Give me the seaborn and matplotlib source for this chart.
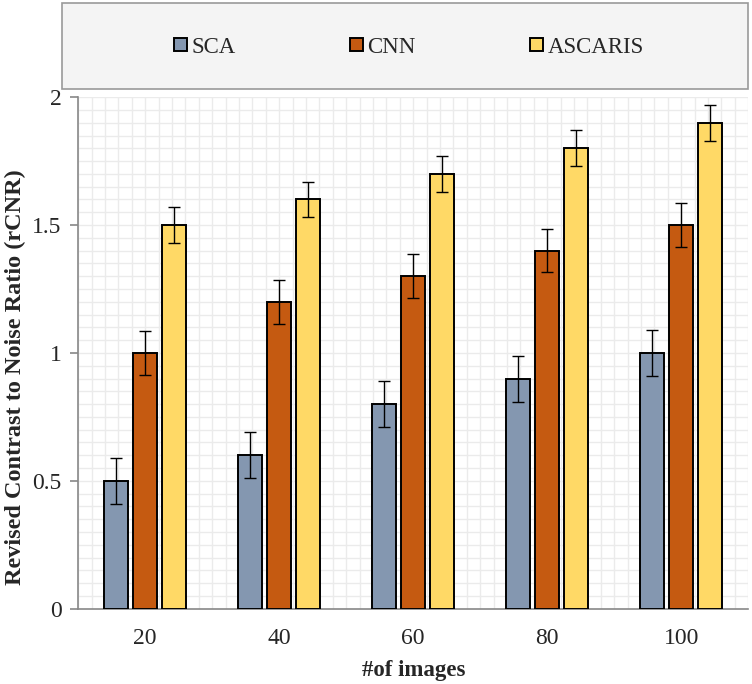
"""
plot.py

Grouped bar chart of rCNR vs number of images.
"""

import numpy as np
import pandas as pd
import matplotlib
matplotlib.use("Agg")
import matplotlib.pyplot as plt
from matplotlib.patches import Rectangle
import seaborn as sns

# data
images = ["20", "40", "60", "80", "100"]
methods = ["SCA", "CNN", "ASCARIS"]
sca = [0.5, 0.6, 0.8, 0.9, 1.0]
cnn = [1.0, 1.2, 1.3, 1.4, 1.5]
ascaris = [1.5, 1.6, 1.7, 1.8, 1.9]
sca_err = [0.09, 0.09, 0.09, 0.09, 0.09]
cnn_err = [0.085, 0.085, 0.085, 0.085, 0.085]
ascaris_err = [0.07, 0.07, 0.07, 0.07, 0.07]
colors = ["#8497B0", "#C55A11", "#FFD966"]

df = pd.DataFrame({
    "images": images * 3,
    "method": [m for m in methods for _ in images],
    "value": sca + cnn + ascaris,
    "err": sca_err + cnn_err + ascaris_err,
})

sns.set_theme(style="white")
plt.rcParams["font.family"] = ["Liberation Serif", "DejaVu Serif"]

fig = plt.figure(figsize=(7.52, 6.84), dpi=100)
ax = fig.add_axes([0.104, 0.110, 0.891, 0.748])

sns.barplot(
    data=df, x="images", y="value", hue="method",
    order=images, hue_order=methods, palette=colors, saturation=1,
    width=0.65, gap=0.17, errorbar=None,
    edgecolor="black", linewidth=1.4, ax=ax, zorder=3
)

# error bars on top of each bar
for container, method in zip(ax.containers, methods):
    errs = df[df["method"] == method]["err"].values
    xs = [p.get_x() + p.get_width() / 2 for p in container.patches]
    ys = [p.get_height() for p in container.patches]
    ax.errorbar(xs, ys, yerr=errs, fmt="none", ecolor="black",
                elinewidth=1.0, capsize=4, capthick=1.0, zorder=4)

ax.legend_.remove()

ax.set_xlim(-0.5, 4.5)
ax.set_ylim(0, 2)

# background grid
grid_color = "#ebebeb"
for x in np.arange(-0.5, 4.51, 0.1):
    ax.axvline(x, color=grid_color, lw=1.0, zorder=0)
for y in np.arange(0, 2.01, 0.05):
    ax.axhline(y, color=grid_color, lw=1.0, zorder=0)

ax.set_yticks([0, 0.5, 1, 1.5, 2])
ax.set_yticklabels(["0", "0.5", "1", "1.5", "2"])
ax.set_xticks(range(len(images)))
ax.set_xticklabels(images)
ax.set_xticks(np.arange(-0.5, 4.6, 1), minor=True)
ax.tick_params(axis="x", which="major", length=0, pad=14, labelsize=17)
ax.tick_params(axis="x", which="minor", length=6, color="#888888", width=1.2,
               direction="out")
ax.tick_params(axis="y", which="major", length=6, color="#888888", width=1.2,
               direction="out", labelsize=17, pad=6)
ax.tick_params(bottom=True, left=True)

for side in ["top", "right"]:
    ax.spines[side].set_visible(False)
for side in ["left", "bottom"]:
    ax.spines[side].set_color("#888888")
    ax.spines[side].set_linewidth(1.2)

ax.set_xlabel("#of images", fontsize=16.5, fontweight="bold", labelpad=8)
ax.set_ylabel("Revised Contrast to Noise Ratio (rCNR)", fontsize=17.5,
              fontweight="bold")
ax.yaxis.set_label_coords(-0.078, 0.453)

# legend box above the plot
fig.patches.append(Rectangle((0.083, 0.870), 0.912, 0.126,
                             transform=fig.transFigure, facecolor="#f4f4f4",
                             edgecolor="#999999", linewidth=1.2))
handles = [Rectangle((0, 0), 1, 1, facecolor=c, edgecolor="black", lw=1.4)
           for c in colors]
fig.legend(handles, methods, loc="center", bbox_to_anchor=(0.544, 0.931),
           ncol=3, frameon=False, fontsize=16.5, handlelength=0.55,
           handleheight=0.55, handletextpad=0.2, columnspacing=5.0)

fig.savefig("out.png", dpi=100)
